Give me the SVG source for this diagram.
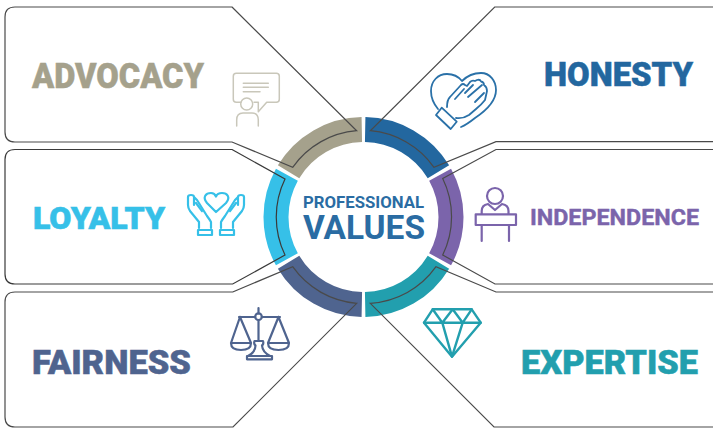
<svg xmlns="http://www.w3.org/2000/svg" width="713" height="428" viewBox="0 0 713 428">
<style>
.seg{fill:none;stroke-width:25}
.card{fill:none;stroke:#4a4a4a;stroke-width:1.2}
.lbl{font-family:Roboto,"Liberation Sans",sans-serif;font-weight:900}
.ic{fill:none;stroke-width:2.2;stroke-linecap:round;stroke-linejoin:round}
</style>
<rect width="713" height="428" fill="#fff"/>
<g id="ring">
<path class="seg" stroke="#a5a18c" d="M288.57,171.81A87.5,87.5 0 0 1 361.82,129.52"/>
<path class="seg" stroke="#23679f" d="M365.18,129.52A87.5,87.5 0 0 1 438.43,171.81"/>
<path class="seg" stroke="#7b64ab" d="M440.11,174.71A87.5,87.5 0 0 1 440.11,259.29"/>
<path class="seg" stroke="#229fae" d="M438.43,262.19A87.5,87.5 0 0 1 365.18,304.48"/>
<path class="seg" stroke="#4f648f" d="M361.82,304.48A87.5,87.5 0 0 1 288.57,262.19"/>
<path class="seg" stroke="#36c0e8" d="M286.89,259.29A87.5,87.5 0 0 1 286.89,174.71"/>
</g>
<g id="center">
<text class="lbl" style="font-weight:700" x="303" y="208" font-size="16.5" fill="#2a6ca3" textLength="121" lengthAdjust="spacingAndGlyphs">PROFESSIONAL</text>
<text class="lbl" style="font-weight:700" x="303" y="239" font-size="33" fill="#2a6ca3" textLength="122" lengthAdjust="spacingAndGlyphs">VALUES</text>
</g>
<g id="advocacy">
<path class="card" d="M232,7L356.7,130.7A87,87 0 0 0 292.7,167.3L232,142H15Q5,142 5,132V17Q5,7 15,7Z"/>
<text class="lbl" x="32" y="88" font-size="35" fill="#a5a18c" stroke="#a5a18c" stroke-width=".5" textLength="172" lengthAdjust="spacingAndGlyphs">ADVOCACY</text>
<g class="ic" stroke="#c9c7ba" style="stroke-width:1.5">
<path d="M241,102.3H236.3Q233.3,102.3 233.3,99.3V76.3Q233.3,73.3 236.3,73.3H276.3Q279.3,73.3 279.3,76.3V99.3Q279.3,102.3 276.3,102.3H266.7L258.3,111.7V102.3H254"/>
<path d="M243.3,83.3H268.3M243.3,87.3H268.3M243.3,91.7H260"/>
<circle cx="246.7" cy="104" r="6"/>
<path d="M236.7,126V120Q236.7,113 243,113H252Q258.3,113 258.3,120V126"/>
</g>
</g>
<g id="honesty">
<path class="card" d="M714,7H494.7L370.3,130.7A87,87 0 0 1 434,167.3L496,141.7H714"/>
<text class="lbl" x="544" y="86" font-size="33" fill="#23679f" stroke="#23679f" stroke-width=".5" textLength="149" lengthAdjust="spacingAndGlyphs">HONESTY</text>
<g class="ic" stroke="#2a71a8" style="stroke-width:1.8">
<path d="M438,109C433,103 431,97 431,91C431,81 438,74 447,74C453,74 458,76 462,81C467,76 474,73 481,73C490,73 496,81 496,90C496,102 484,112 475,118C470,122 466,125 461,127"/>
<path d="M441.700,107.700L436,115L450.700,129L456.700,121.700Z"/>
<path d="M447,107Q447,100 450,97L461,85Q463,83 465,85L467,86L470,82Q472,80 475,81L477,80Q480,79 481,81.500Q484,82 484,85Q487,87 487,91L485,100Q482,104 476,109L469,115Q463,119 456,118"/>
<path d="M455,99L464,89M465,93L473,85M468,97L482,85M475,102L484,93"/>
</g>
</g>
<g id="loyalty">
<path class="card" style="stroke:#3a3a3a" d="M232,149.500L285,179A87,87 0 0 0 285,255L232.700,284H15Q5,284 5,274V159.500Q5,149.500 15,149.500Z"/>
<text class="lbl" x="33" y="229" font-size="32" fill="#36c0e8" stroke="#36c0e8" stroke-width=".6" textLength="132" lengthAdjust="spacingAndGlyphs">LOYALTY</text>
<g class="ic" stroke="#36c0e8">
<path d="M216,212L207,203C202,197 206,193 211,193C213.500,193 215,194 216,196.500C217,194 219,193 222,193C227,193 231,197 226,203Z"/>
<g id="hand-l">
<path d="M199,228V222L190,211Q188,208 188,205V197Q188,195 191,195Q194,195 194,197V205M194,197L197,200L207,216Q210,220 211,222V228"/>
<path d="M196,203L202,211"/>
<path d="M198,230H212V235H198Z"/>
</g>
<use href="#hand-l" transform="matrix(-1 0 0 1 432 0)"/>
</g>
</g>
<g id="independence">
<path class="card" d="M714,149.500H496L442.700,178.500A87,87 0 0 1 442.700,255L495,284H714"/>
<text class="lbl" style="font-weight:700" x="530" y="225" font-size="22" fill="#7b64ab" stroke="#7b64ab" stroke-width=".4" textLength="169" lengthAdjust="spacingAndGlyphs">INDEPENDENCE</text>
<g class="ic" stroke="#7b64ab">
<circle cx="495" cy="196" r="8"/>
<path d="M481.700,214V211Q481.700,205 488,204L495,210L502,204Q508.500,205 508.500,211V214"/>
<path d="M475.700,214.300H516V225H475.700Z"/>
<path d="M481.700,225V241M509,225V241"/>
</g>
</g>
<g id="fairness">
<path class="card" d="M232.700,292L292.700,266.700A87,87 0 0 0 356.700,303.300L233,427H15Q5,427 5,417V302Q5,292 15,292Z"/>
<text class="lbl" x="32" y="374" font-size="33" fill="#4f648f" stroke="#4f648f" stroke-width=".5" textLength="159" lengthAdjust="spacingAndGlyphs">FAIRNESS</text>
<g class="ic" stroke="#4f648f">
<path d="M258.500,308V313.400M258.500,320V341"/>
<circle cx="258.500" cy="316.700" r="3.300"/>
<path d="M239,317H255.200M261.800,317H280"/>
<path d="M240,317L231,343Q231,350 241,350Q251,350 251,343L240,317M231,343H251"/>
<path d="M278.500,317L268,343Q268,350 278.500,350Q289,350 289,343L278.500,317M268,343H289"/>
<path d="M254.500,341H263Q264,344 262,345.500Q262.500,352 270,356H248Q255.500,352 255.500,345.500Q253.500,344 254.500,341Z"/>
<path d="M247,356H272V359.300H247Z"/>
</g>
</g>
<g id="expertise">
<path class="card" d="M714,292H496L436,266.700A87,87 0 0 1 370.300,303.300L494,427H714"/>
<text class="lbl" x="521" y="374" font-size="33" fill="#229fae" stroke="#229fae" stroke-width=".5" textLength="177" lengthAdjust="spacingAndGlyphs">EXPERTISE</text>
<g class="ic" stroke="#229fae" style="stroke-width:2.400">
<path d="M432.700,309.300H471.700L480.700,322.700L452,356.700L424,322.700Z"/>
<path d="M424,322.700H480.700M432.700,309.300L442.300,322.700L452.700,309.300L462.700,322.700L471.700,309.300M442.300,322.700L452,356.700L462.700,322.700"/>
</g>
</g>
</svg>
